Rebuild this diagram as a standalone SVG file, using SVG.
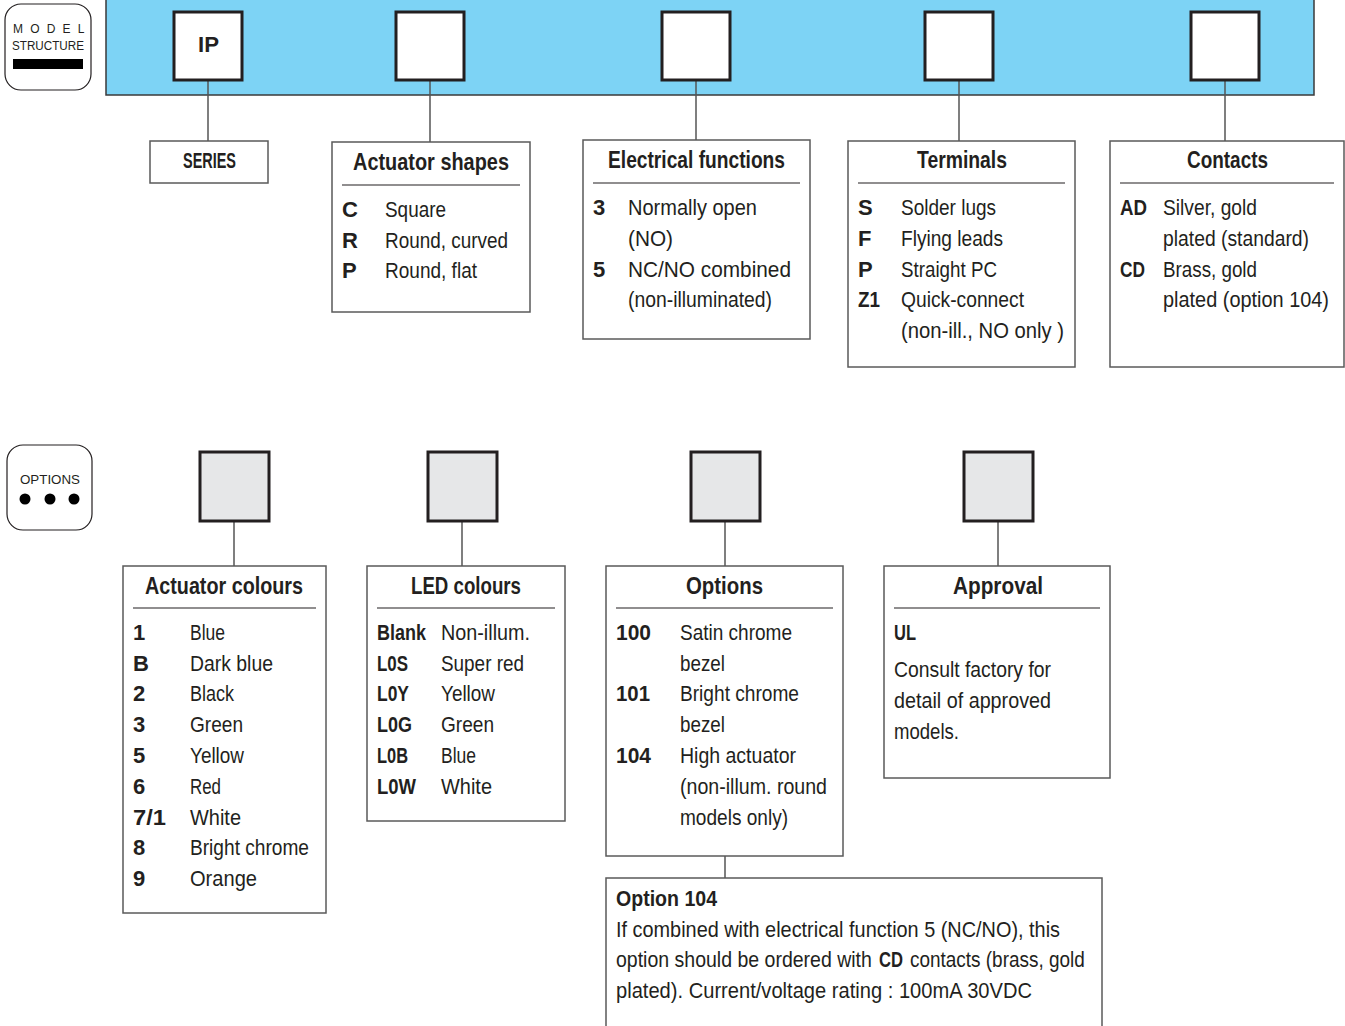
<svg xmlns="http://www.w3.org/2000/svg" width="1345" height="1026" viewBox="0 0 1345 1026">
<style>
.panel{fill:#fff;stroke:#5a5a5a;stroke-width:1.5}
.slot{fill:#fff;stroke:#231f20;stroke-width:3}
.gslot{fill:#e6e7e8;stroke:#231f20;stroke-width:3}
.conn{stroke:#555;stroke-width:1.5;fill:none}
.rule{stroke:#231f20;stroke-width:1.2}
text{font-family:"Liberation Sans",Arial,sans-serif;fill:#231f20;font-size:22px}
.b{font-weight:bold}
.h{font-size:24px;font-weight:bold}
.badge{fill:#fff;stroke:#231f20;stroke-width:1.2}
.sm{font-size:12px}
</style>
<rect width="1345" height="1026" fill="#fff"/>

<g id="model-badge">
<rect class="badge" x="5" y="4" width="86" height="86" rx="16"/>
<text class="sm" x="13" y="33" letter-spacing="7.2">MODEL</text>
<text class="sm" x="12" y="50" textLength="72" lengthAdjust="spacingAndGlyphs">STRUCTURE</text>
<rect x="13" y="59" width="70" height="10" fill="#000"/>
</g>

<g id="blue-bar">
<rect x="106" y="-2" width="1208" height="97" fill="#7dd3f5" stroke="#3a3a3a" stroke-width="1.5"/>
</g>

<g id="connectors">
<line class="conn" x1="208" y1="80" x2="208" y2="141"/>
<line class="conn" x1="430" y1="80" x2="430" y2="142"/>
<line class="conn" x1="696" y1="80" x2="696" y2="140"/>
<line class="conn" x1="959" y1="80" x2="959" y2="141"/>
<line class="conn" x1="1225" y1="80" x2="1225" y2="141"/>
<line class="conn" x1="234" y1="522" x2="234" y2="566"/>
<line class="conn" x1="462" y1="522" x2="462" y2="566"/>
<line class="conn" x1="725" y1="522" x2="725" y2="566"/>
<line class="conn" x1="998" y1="522" x2="998" y2="566"/>
<line class="conn" x1="725" y1="856" x2="725" y2="878"/>
</g>

<g id="slot-ip"><rect class="slot" x="174" y="12" width="68" height="68"/><text class="b" x="198" y="52" font-size="26" textLength="21" lengthAdjust="spacingAndGlyphs">IP</text></g>
<g id="slot-shape"><rect class="slot" x="396" y="12" width="68" height="68"/></g>
<g id="slot-elec"><rect class="slot" x="662" y="12" width="68" height="68"/></g>
<g id="slot-term"><rect class="slot" x="925" y="12" width="68" height="68"/></g>
<g id="slot-contact"><rect class="slot" x="1191" y="12" width="68" height="68"/></g>

<g id="series">
<rect class="panel" x="150" y="141" width="118" height="42"/>
<text class="b" x="183" y="168" font-size="19" textLength="53" lengthAdjust="spacingAndGlyphs">SERIES</text>
</g>

<g id="actuator-shapes">
<rect class="panel" x="332" y="142" width="198" height="170"/>
<text class="h" x="353" y="170" textLength="156" lengthAdjust="spacingAndGlyphs">Actuator shapes</text>
<line class="rule" x1="342" y1="185" x2="520" y2="185"/>
<text class="b" x="342" y="217">C</text><text x="385" y="217" textLength="61" lengthAdjust="spacingAndGlyphs">Square</text>
<text class="b" x="342" y="248">R</text><text x="385" y="248" textLength="123" lengthAdjust="spacingAndGlyphs">Round, curved</text>
<text class="b" x="342" y="278">P</text><text x="385" y="278" textLength="92" lengthAdjust="spacingAndGlyphs">Round, flat</text>
</g>

<g id="electrical-functions">
<rect class="panel" x="583" y="140" width="227" height="199"/>
<text class="h" x="608" y="168" textLength="177" lengthAdjust="spacingAndGlyphs">Electrical functions</text>
<line class="rule" x1="593" y1="183" x2="800" y2="183"/>
<text class="b" x="593" y="215">3</text><text x="628" y="215" textLength="129" lengthAdjust="spacingAndGlyphs">Normally open</text>
<text x="628" y="246" textLength="45" lengthAdjust="spacingAndGlyphs">(NO)</text>
<text class="b" x="593" y="277">5</text><text x="628" y="277" textLength="163" lengthAdjust="spacingAndGlyphs">NC/NO combined</text>
<text x="628" y="307" textLength="144" lengthAdjust="spacingAndGlyphs">(non-illuminated)</text>
</g>

<g id="terminals">
<rect class="panel" x="848" y="141" width="227" height="226"/>
<text class="h" x="917" y="168" textLength="90" lengthAdjust="spacingAndGlyphs">Terminals</text>
<line class="rule" x1="858" y1="183" x2="1065" y2="183"/>
<text class="b" x="858" y="215">S</text><text x="901" y="215" textLength="95" lengthAdjust="spacingAndGlyphs">Solder lugs</text>
<text class="b" x="858" y="246">F</text><text x="901" y="246" textLength="102" lengthAdjust="spacingAndGlyphs">Flying leads</text>
<text class="b" x="858" y="277">P</text><text x="901" y="277" textLength="96" lengthAdjust="spacingAndGlyphs">Straight PC</text>
<text class="b" x="858" y="307" textLength="22" lengthAdjust="spacingAndGlyphs">Z1</text><text x="901" y="307" textLength="123" lengthAdjust="spacingAndGlyphs">Quick-connect</text>
<text x="901" y="338" textLength="163" lengthAdjust="spacingAndGlyphs">(non-ill., NO only )</text>
</g>

<g id="contacts">
<rect class="panel" x="1110" y="141" width="234" height="226"/>
<text class="h" x="1187" y="168" textLength="81" lengthAdjust="spacingAndGlyphs">Contacts</text>
<line class="rule" x1="1120" y1="183" x2="1334" y2="183"/>
<text class="b" x="1120" y="215" textLength="27" lengthAdjust="spacingAndGlyphs">AD</text><text x="1163" y="215" textLength="94" lengthAdjust="spacingAndGlyphs">Silver, gold</text>
<text x="1163" y="246" textLength="146" lengthAdjust="spacingAndGlyphs">plated (standard)</text>
<text class="b" x="1120" y="277" textLength="25" lengthAdjust="spacingAndGlyphs">CD</text><text x="1163" y="277" textLength="94" lengthAdjust="spacingAndGlyphs">Brass, gold</text>
<text x="1163" y="307" textLength="166" lengthAdjust="spacingAndGlyphs">plated (option 104)</text>
</g>

<g id="options-badge">
<rect class="badge" x="7" y="445" width="85" height="85" rx="16"/>
<text class="sm" x="20" y="484" textLength="60" lengthAdjust="spacingAndGlyphs">OPTIONS</text>
<circle cx="25" cy="499" r="5.5" fill="#000"/>
<circle cx="50" cy="499" r="5.5" fill="#000"/>
<circle cx="74" cy="499" r="5.5" fill="#000"/>
</g>

<g id="slot-actcol"><rect class="gslot" x="200" y="452" width="69" height="69"/></g>
<g id="slot-led"><rect class="gslot" x="428" y="452" width="69" height="69"/></g>
<g id="slot-options"><rect class="gslot" x="691" y="452" width="69" height="69"/></g>
<g id="slot-approval"><rect class="gslot" x="964" y="452" width="69" height="69"/></g>

<g id="actuator-colours">
<rect class="panel" x="123" y="566" width="203" height="347"/>
<text class="h" x="145" y="594" textLength="158" lengthAdjust="spacingAndGlyphs">Actuator colours</text>
<line class="rule" x1="133" y1="608" x2="316" y2="608"/>
<text class="b" x="133" y="640">1</text><text x="190" y="640" textLength="35" lengthAdjust="spacingAndGlyphs">Blue</text>
<text class="b" x="133" y="671">B</text><text x="190" y="671" textLength="83" lengthAdjust="spacingAndGlyphs">Dark blue</text>
<text class="b" x="133" y="701">2</text><text x="190" y="701" textLength="44" lengthAdjust="spacingAndGlyphs">Black</text>
<text class="b" x="133" y="732">3</text><text x="190" y="732" textLength="53" lengthAdjust="spacingAndGlyphs">Green</text>
<text class="b" x="133" y="763">5</text><text x="190" y="763" textLength="54" lengthAdjust="spacingAndGlyphs">Yellow</text>
<text class="b" x="133" y="794">6</text><text x="190" y="794" textLength="31" lengthAdjust="spacingAndGlyphs">Red</text>
<text class="b" x="133" y="825" textLength="33" lengthAdjust="spacingAndGlyphs">7/1</text><text x="190" y="825" textLength="51" lengthAdjust="spacingAndGlyphs">White</text>
<text class="b" x="133" y="855">8</text><text x="190" y="855" textLength="119" lengthAdjust="spacingAndGlyphs">Bright chrome</text>
<text class="b" x="133" y="886">9</text><text x="190" y="886" textLength="67" lengthAdjust="spacingAndGlyphs">Orange</text>
</g>

<g id="led-colours">
<rect class="panel" x="367" y="566" width="198" height="255"/>
<text class="h" x="411" y="594" textLength="110" lengthAdjust="spacingAndGlyphs">LED colours</text>
<line class="rule" x1="377" y1="608" x2="555" y2="608"/>
<text class="b" x="377" y="640" textLength="49" lengthAdjust="spacingAndGlyphs">Blank</text><text x="441" y="640" textLength="89" lengthAdjust="spacingAndGlyphs">Non-illum.</text>
<text class="b" x="377" y="671" textLength="31" lengthAdjust="spacingAndGlyphs">L0S</text><text x="441" y="671" textLength="83" lengthAdjust="spacingAndGlyphs">Super red</text>
<text class="b" x="377" y="701" textLength="32" lengthAdjust="spacingAndGlyphs">L0Y</text><text x="441" y="701" textLength="54" lengthAdjust="spacingAndGlyphs">Yellow</text>
<text class="b" x="377" y="732" textLength="35" lengthAdjust="spacingAndGlyphs">L0G</text><text x="441" y="732" textLength="53" lengthAdjust="spacingAndGlyphs">Green</text>
<text class="b" x="377" y="763" textLength="31" lengthAdjust="spacingAndGlyphs">L0B</text><text x="441" y="763" textLength="35" lengthAdjust="spacingAndGlyphs">Blue</text>
<text class="b" x="377" y="794" textLength="39" lengthAdjust="spacingAndGlyphs">L0W</text><text x="441" y="794" textLength="51" lengthAdjust="spacingAndGlyphs">White</text>
</g>

<g id="options">
<rect class="panel" x="606" y="566" width="237" height="290"/>
<text class="h" x="686" y="594" textLength="77" lengthAdjust="spacingAndGlyphs">Options</text>
<line class="rule" x1="616" y1="608" x2="833" y2="608"/>
<text class="b" x="616" y="640" textLength="35" lengthAdjust="spacingAndGlyphs">100</text><text x="680" y="640" textLength="112" lengthAdjust="spacingAndGlyphs">Satin chrome</text>
<text x="680" y="671" textLength="45" lengthAdjust="spacingAndGlyphs">bezel</text>
<text class="b" x="616" y="701" textLength="34" lengthAdjust="spacingAndGlyphs">101</text><text x="680" y="701" textLength="119" lengthAdjust="spacingAndGlyphs">Bright chrome</text>
<text x="680" y="732" textLength="45" lengthAdjust="spacingAndGlyphs">bezel</text>
<text class="b" x="616" y="763" textLength="35" lengthAdjust="spacingAndGlyphs">104</text><text x="680" y="763" textLength="116" lengthAdjust="spacingAndGlyphs">High actuator</text>
<text x="680" y="794" textLength="147" lengthAdjust="spacingAndGlyphs">(non-illum. round</text>
<text x="680" y="825" textLength="108" lengthAdjust="spacingAndGlyphs">models only)</text>
</g>

<g id="approval">
<rect class="panel" x="884" y="566" width="226" height="212"/>
<text class="h" x="953" y="594" textLength="90" lengthAdjust="spacingAndGlyphs">Approval</text>
<line class="rule" x1="894" y1="608" x2="1100" y2="608"/>
<text class="b" x="894" y="640" textLength="22" lengthAdjust="spacingAndGlyphs">UL</text>
<text x="894" y="677" textLength="157" lengthAdjust="spacingAndGlyphs">Consult factory for</text>
<text x="894" y="708" textLength="157" lengthAdjust="spacingAndGlyphs">detail of approved</text>
<text x="894" y="739" textLength="65" lengthAdjust="spacingAndGlyphs">models.</text>
</g>

<g id="option-104">
<rect class="panel" x="606" y="878" width="496" height="160"/>
<text class="b" x="616" y="906" textLength="101" lengthAdjust="spacingAndGlyphs">Option 104</text>
<text x="616" y="937" textLength="444" lengthAdjust="spacingAndGlyphs">If combined with electrical function 5 (NC/NO), this</text>
<text transform="translate(616 967) scale(0.887 1)">option should be ordered with</text>
<text class="b" transform="translate(879 967) scale(0.755 1)">CD</text>
<text transform="translate(910 967) scale(0.862 1)">contacts (brass, gold</text>
<text x="616" y="998" textLength="416" lengthAdjust="spacingAndGlyphs">plated). Current/voltage rating : 100mA 30VDC</text>
</g>
</svg>
